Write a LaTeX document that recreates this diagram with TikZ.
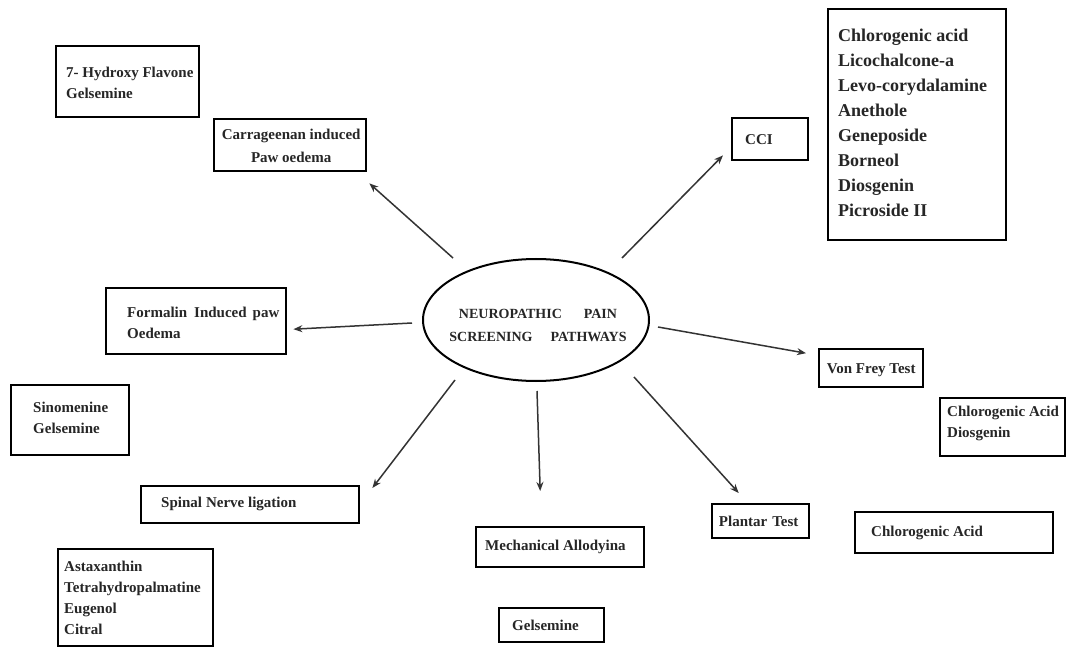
\documentclass[tikz,border=0pt]{standalone}
\usepackage{fontspec}
\setmainfont{Liberation Serif}
\usetikzlibrary{shapes.geometric,arrows.meta,calc}
\begin{document}
\begin{tikzpicture}[x=1pt,y=-1pt,
  box/.style={draw=black, line width=2.4pt, rectangle, inner sep=0pt, anchor=north west},
  txt/.style={font=\fontsize{15}{21}\selectfont\bfseries, inner sep=0pt, align=left, anchor=west, text=black!85},
  ctxt/.style={font=\fontsize{15}{23}\selectfont\bfseries, inner sep=0pt, align=center, text=black!85},
  bigtxt/.style={font=\fontsize{18}{24.9}\selectfont\bfseries, inner sep=0pt, align=left, anchor=west, text=black!85},
  arr/.style={line width=1.5pt, draw=black!80, -{Stealth[length=9pt,width=7pt]}}
]
\fill[white] (0,0) rectangle (1066,647);
\useasboundingbox (0,0) rectangle (1066,647);

% centre
\node[draw=black, line width=2pt, ellipse, minimum width=226, minimum height=122, inner sep=0pt] (ell) at (536,320) {};
\node[font=\fontsize{14}{23}\selectfont\bfseries, align=center, text=black!85, inner sep=0pt] (ellt) at ($(ell.center)+(2,5)$)
  {NEUROPATHIC\hspace{22pt}PAIN\\SCREENING\hspace{18pt}PATHWAYS};

% boxes
\node[box, minimum width=143, minimum height=71] (hf) at (55,45) {};
\node[txt] (hft) at ($(hf.west)+(11,1)$) {7- Hydroxy Flavone\\Gelsemine};

\node[box, minimum width=152, minimum height=52] (carr) at (213,118) {};
\node[ctxt] (carrt) at ($(carr.center)+(1,1)$) {Carrageenan induced\\Paw oedema};

\node[box, minimum width=76, minimum height=42] (cci) at (731,117) {};
\node[txt] (ccit) at ($(cci.west)+(14,0)$) {CCI};

\node[box, minimum width=178, minimum height=231] (big) at (827,8) {};
\node[bigtxt] (bigt) at ($(big.west)+(11,-2)$) {Chlorogenic acid\\Licochalcone-a\\Levo-corydalamine\\Anethole\\Geneposide\\Borneol\\Diosgenin\\Picroside II};

\node[box, minimum width=180, minimum height=66] (form) at (105,287) {};
\node[txt] (formt) at ($(form.west)+(22,2)$) {Formalin\hspace{7pt}Induced\hspace{6pt}paw\\Oedema};

\node[box, minimum width=118, minimum height=70] (sino) at (10,384) {};
\node[txt] (sinot) at ($(sino.west)+(23,-2)$) {Sinomenine\\Gelsemine};

\node[box, minimum width=104, minimum height=38] (vf) at (818,348) {};
\node[ctxt] (vft) at ($(vf.center)+(0,2)$) {Von Frey Test};

\node[box, minimum width=125, minimum height=58] (cad) at (939,397) {};
\node[txt] (cadt) at ($(cad.west)+(8,-4)$) {Chlorogenic Acid\\Diosgenin};

\node[box, minimum width=97, minimum height=34] (plan) at (711,503) {};
\node[ctxt] (plant) at ($(plan.center)+(-2,0)$) {Plantar\hspace{5pt}Test};

\node[box, minimum width=198, minimum height=41] (ca) at (854,511) {};
\node[txt] (cat) at ($(ca.west)+(17,0)$) {Chlorogenic Acid};

\node[box, minimum width=218, minimum height=37] (spin) at (140,485) {};
\node[txt] (spint) at ($(spin.west)+(21,-1)$) {Spinal\hspace{4pt}Nerve ligation};

\node[box, minimum width=168, minimum height=40] (mech) at (475,526) {};
\node[txt] (mecht) at ($(mech.west)+(10,0)$) {Mechanical Allodyina};

\node[box, minimum width=105, minimum height=34] (gel) at (498,607) {};
\node[txt] (gelt) at ($(gel.west)+(14,0)$) {Gelsemine};

\node[box, minimum width=155, minimum height=97] (asta) at (57,548) {};
\node[txt] (astat) at ($(asta.west)+(7,0)$) {Astaxanthin\\Tetrahydropalmatine\\Eugenol\\Citral};

% arrows
\draw[arr] ($(ell.center)+(-83,-62)$) -- ($(carr.south east)+(2,11)$);
\draw[arr] ($(ell.center)+(86,-62)$) -- ($(cci.south west)+(-8,-6)$);
\draw[arr] ($(ell.west)+(-10,3)$) -- ($(form.east)+(6,8)$);
\draw[arr] ($(ell.east)+(8,7)$) -- ($(vf.west)+(-12,-15)$);
\draw[arr] ($(ell.center)+(-81,60)$) -- ($(spin.north east)+(12,3)$);
\draw[arr] ($(ell.south)+(1,9)$) -- ($(mech.north)+(-20,-35)$);
\draw[arr] ($(ell.center)+(98,57)$) -- ($(plan.north)+(-22,-10)$);
\end{tikzpicture}
\end{document}
